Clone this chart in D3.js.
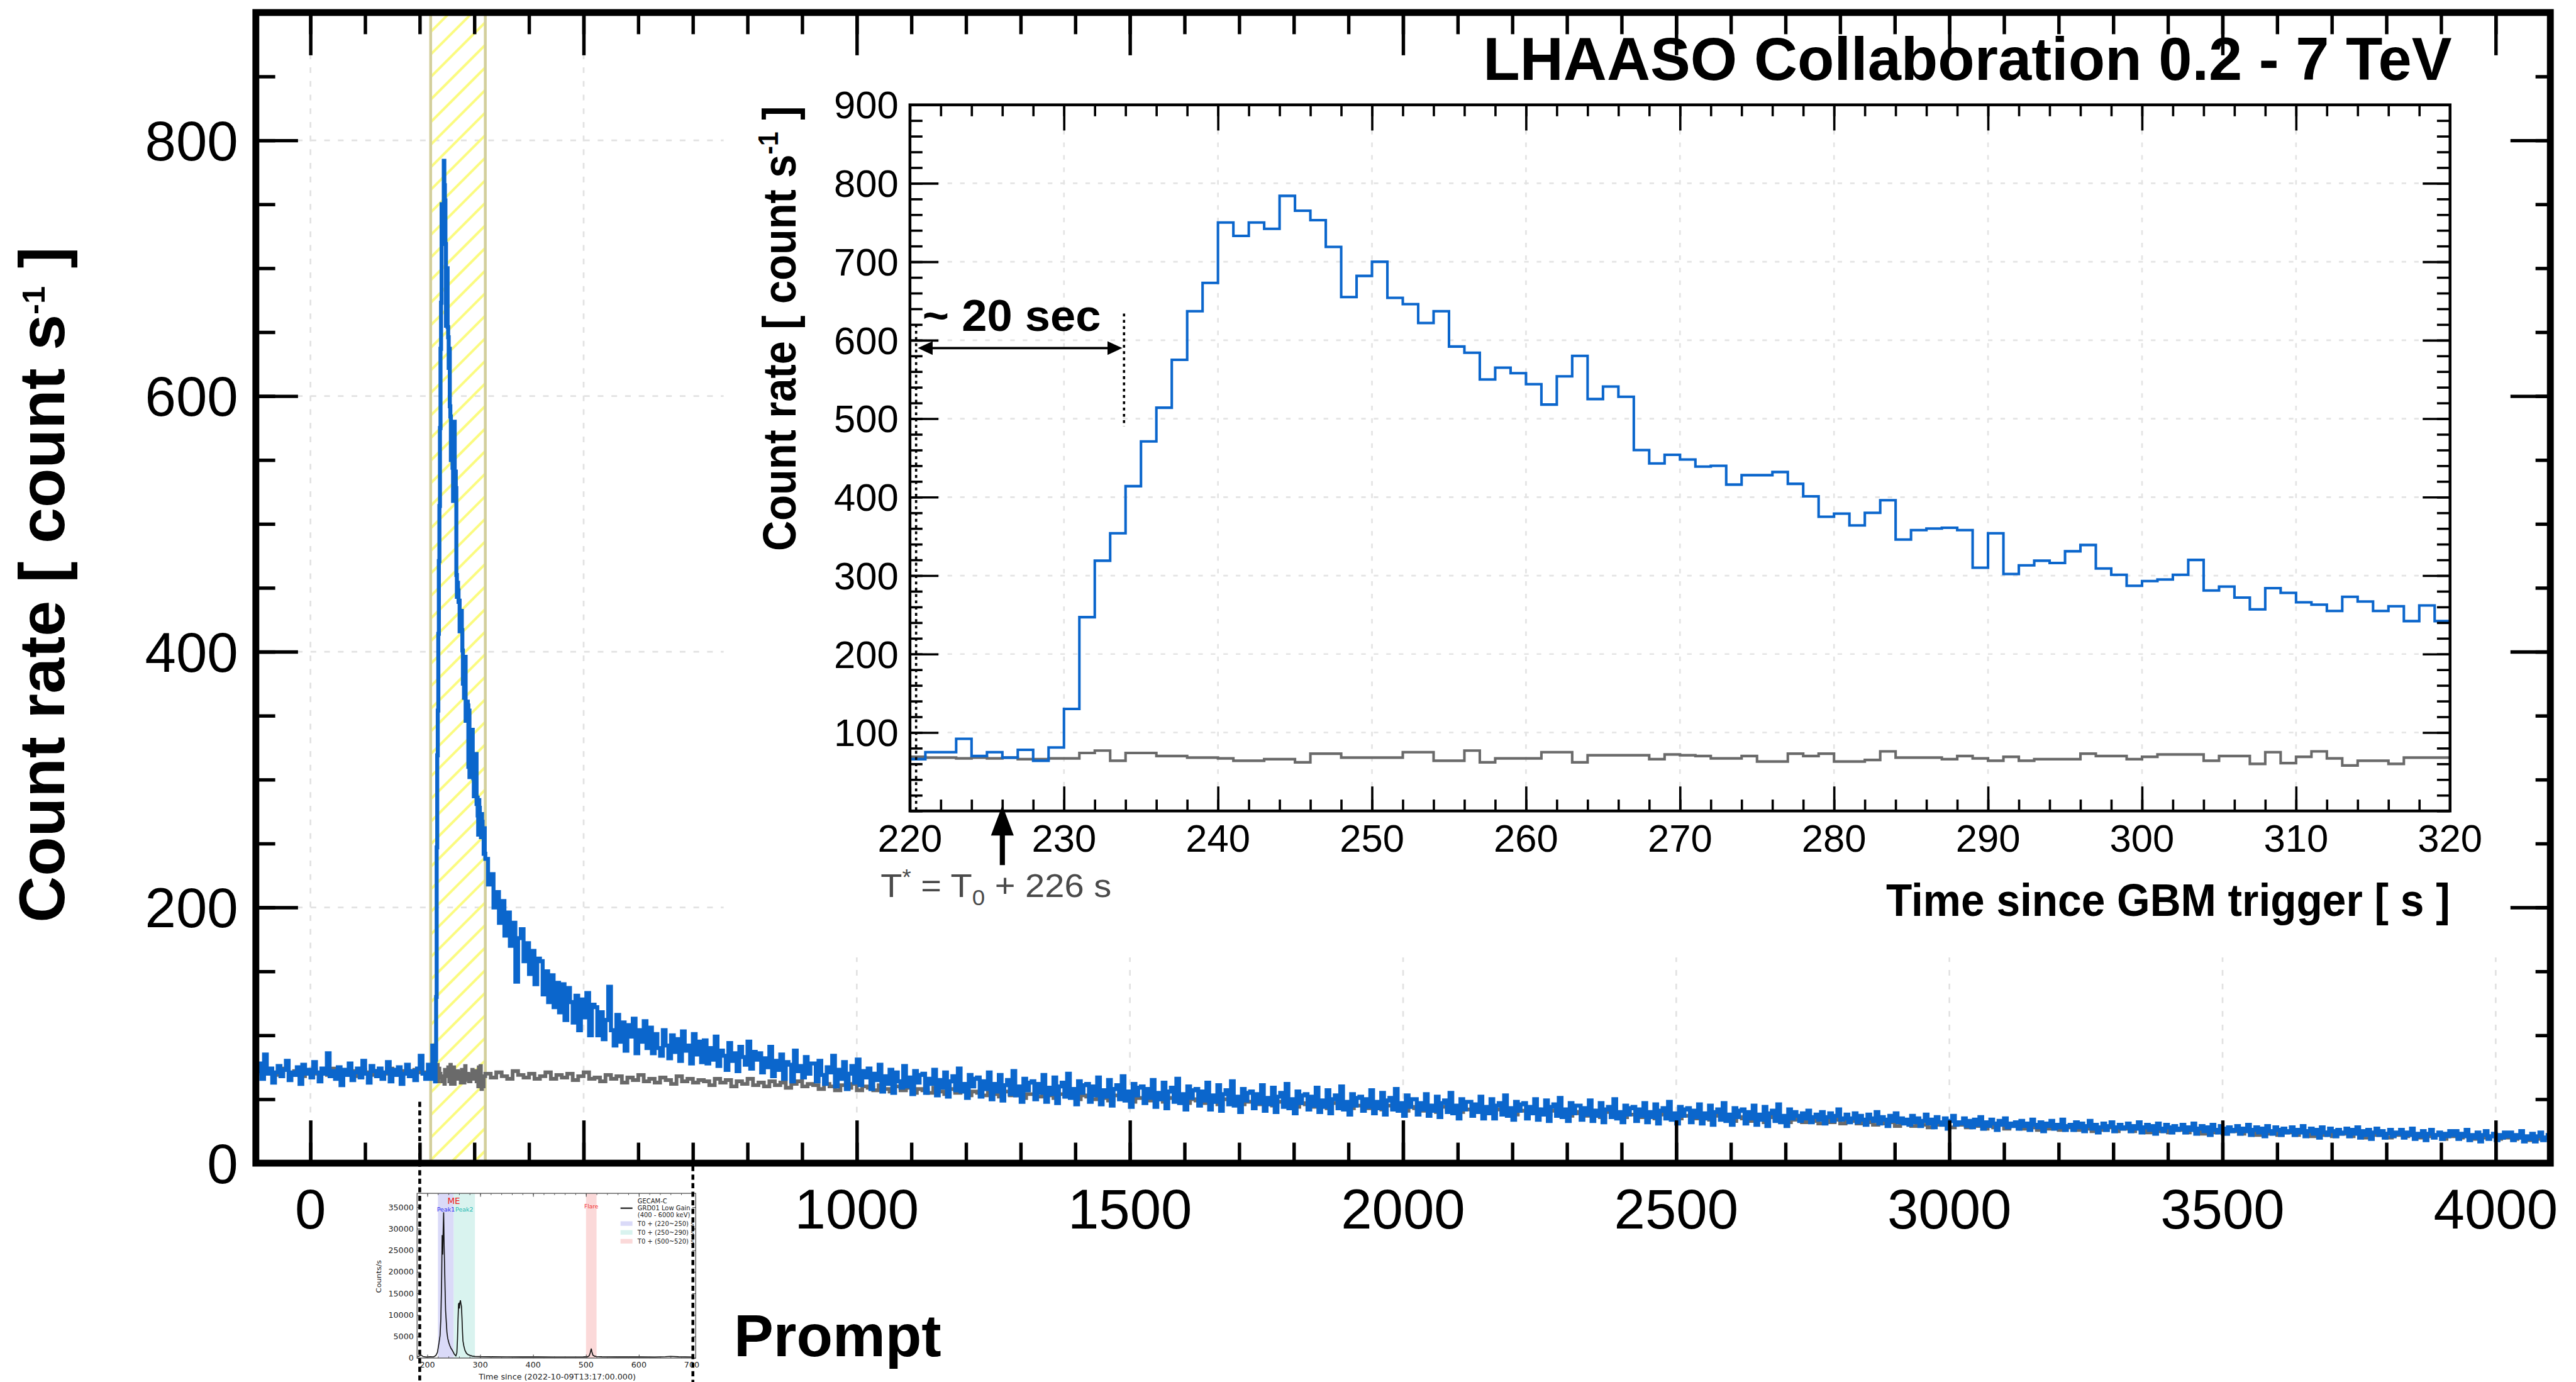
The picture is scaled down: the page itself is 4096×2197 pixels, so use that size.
<!DOCTYPE html>
<html><head><meta charset="utf-8">
<script src="https://cdn.jsdelivr.net/npm/d3@7"></script>
<style>html,body{margin:0;padding:0;background:#fff;overflow:hidden} text{white-space:pre}</style>
</head><body>
<script>
// ======================= DATA =======================
// Main light curve (LHAASO, count rate), 5 s bins from -100 s to 220 s
const blueMainPre = [72,78,66,85,70,74,63,71,76,68, 73,80,65,71,69,75,62,77,70,73, 67,79,71,64,74,70,86,68,72,66,
  75,61,73,69,78,65,71,74,67,80, 70,63,76,72,68,74,66,71,79,64, 73,69,75,62,70,77,68,72,65,74, 84,70,66,77];
// 1 s bins, 220 s to 320 s (shown in the inset, also used in the main panel)
const blueInset = [66,75,75,92,70,75,68,78,64,81, 130,247,319,354,414,471,514,575,637,673,
  750,733,750,742,784,765,753,719,655,682, 700,654,646,622,637,592,584,550,565,558,
  544,518,554,580,525,541,528,460,443,454, 448,439,440,416,428,428,432,417,401,375,
  379,364,380,396,346,358,360,361,358,310, 354,302,313,319,316,331,339,309,301,287,
  293,295,301,320,281,286,272,257,284,278, 266,263,255,273,267,255,261,242,262,242];
// 5 s bins, 320 s to 4100 s
const blueMainPost = [
  238,218,226,200,212,188,205,178,196,170,188,142,176,183,158,172,148,166,140,160,
  158,132,150,126,147,122,141,118,140,112,137,126,110,131,104,128,114,133,100,124,
  122,100,118,97,112,138,104,92,116,95,110,88,108,99,113,86,104,95,111,90,
  106,86,101,90,84,104,92,82,100,87,97,80,103,88,92,78,101,85,95,79,
  96,78,90,81,99,76,88,84,73,94,80,86,72,91,83,77,95,74,87,81,
  86,71,82,75,91,68,80,73,85,66,79,77,64,88,72,76,67,83,70,78,
  78,64,80,69,62,75,71,84,60,73,66,79,58,70,76,63,81,61,72,67,
  74,58,70,65,77,56,68,62,73,55,71,64,59,76,60,67,54,72,63,69,
  70,55,66,62,73,53,65,59,71,52,64,68,57,74,56,62,51,69,60,66,
  67,52,64,58,71,50,62,56,69,49,61,65,54,72,53,60,48,66,57,63,
  64,50,62,55,69,48,59,54,67,47,60,63,52,70,51,58,46,64,55,61,
  62,48,60,53,67,46,57,52,65,45,58,61,50,68,49,56,44,62,53,59,
  60,47,58,51,65,44,55,50,63,43,56,59,48,66,47,54,42,60,51,57,
  58,45,56,49,63,42,53,48,61,41,54,57,46,64,45,52,40,58,49,55,
  56,43,54,47,61,41,51,46,59,40,52,55,44,62,43,50,39,56,47,53,
  54,42,52,45,59,40,49,44,57,39,50,53,43,60,42,48,38,54,45,51,
  52,41,50,44,57,39,48,43,55,38,49,51,42,58,41,47,37,53,44,50,
  50,38,47,42,54,37,45,41,52,36,47,49,40,55,39,45,35,50,42,48,
  48,37,46,40,52,35,44,39,50,35,45,47,38,53,37,43,34,48,41,46,
  47,35,44,39,50,34,42,38,49,33,44,46,37,51,36,42,33,47,39,45,
  45,34,43,38,49,33,41,37,47,32,42,44,36,50,35,40,32,45,38,43,
  44,33,42,37,47,32,40,36,46,31,41,43,35,48,34,39,31,44,37,42,
  43,32,41,36,46,31,39,35,45,30,40,42,34,47,33,38,30,43,36,41,
  42,31,40,35,45,30,38,34,44,29,39,41,33,46,32,37,29,42,35,40,
  37,33,39,35,41,32,36,38,34,40,31,36,39,33,37,42,34,35,38,32,
  35,39,32,37,34,30,38,35,33,40,31,36,34,29,37,33,39,32,35,31,
  34,30,37,32,35,29,33,38,31,34,28,36,32,30,35,27,33,37,30,32,
  31,35,29,33,28,34,30,36,27,32,29,34,31,26,33,30,35,28,31,29,
  32,27,33,29,31,26,34,30,28,32,25,31,29,33,27,30,28,34,26,29,
  30,26,32,28,31,25,29,33,27,30,24,28,31,26,29,32,25,28,30,27,
  28,31,25,29,27,32,24,28,30,26,29,23,31,27,25,30,28,24,29,26,
  27,30,24,28,26,31,23,27,29,25,28,22,30,26,24,29,27,23,28,25,
  26,29,23,27,25,30,22,26,28,24,27,21,29,25,23,28,26,22,27,24,
  25,28,22,26,24,29,21,25,27,23,26,20,28,24,22,27,25,21,26,23,
  24,27,21,26,23,28,20,25,22,26,19,24,27,22,25,20,23,26,21,24,
  23,26,20,24,22,27,19,23,21,25,18,23,26,20,22,24,19,23,21,25,
  22,25,19,23,21,26,18,22,20,24,17,22,25,19,21,23,18,22,20,24,
  21,24,18,22,20,25,17,21,19,23,17,21,24,18,20,22];
// Background estimate (grey): 10 s bins -100..220, 1 s bins 220..320, 10 s bins 320..4100
const grayMainPre = [72,70,73,69,71,74,70,72,68,71, 73,70,72,69,74,71,70,72,68,73, 71,69,72,70,74,71,69,72,70,73, 71,70];
const grayInset = [69,68,68,67,68,67,68,66,66,67, 67,74,77,64,74,74,70,70,68,68,
  67,64,64,66,66,62,73,73,68,68, 68,68,75,75,64,64,77,62,67,67,
  67,75,75,62,71,71,71,71,66,72, 71,70,67,67,70,63,63,73,70,73,
  63,63,65,76,68,68,68,66,70,67, 64,69,64,66,66,66,73,70,70,66,
  69,72,72,72,64,70,70,60,75,61, 69,76,67,58,64,64,60,68,68,68];
const grayMainPost = [
  70,67,71,68,66,72,69,67,70,66, 68,71,66,69,67,70,65,68,71,66, 67,64,69,66,68,63,67,65,69,64,
  66,63,67,65,62,68,64,66,63,65, 64,61,66,63,65,60,64,62,66,61, 63,60,64,61,63,59,62,64,60,62,
  61,58,62,60,57,61,59,62,57,60, 59,57,61,58,56,60,57,59,55,58, 57,55,59,56,54,58,55,57,53,56,
  55,53,57,54,52,56,53,55,51,54, 54,52,55,53,51,54,52,54,50,53, 52,50,54,51,49,53,51,52,48,51,
  51,49,52,50,48,51,49,51,47,50, 49,47,51,48,46,50,48,49,46,48, 48,46,49,47,45,48,46,48,44,47,
  46,44,48,45,43,47,45,46,43,45, 45,43,46,44,42,45,43,45,41,44, 43,41,45,42,40,44,42,43,40,42,
  42,40,43,41,39,42,40,42,38,41, 41,39,42,40,38,41,39,40,37,40, 39,37,41,38,36,40,38,39,36,38,
  38,36,39,37,35,38,36,38,35,37, 37,35,38,36,34,37,35,36,33,36, 35,33,37,34,32,36,34,35,32,34,
  34,32,35,33,31,34,32,34,31,33, 33,31,34,32,30,33,31,32,29,32, 31,29,33,30,28,32,30,31,28,30,
  30,28,31,29,27,30,28,30,27,29, 29,27,30,28,26,29,27,29,26,28, 28,26,29,27,25,28,26,28,25,27,
  27,25,28,26,24,27,25,27,24,26, 26,24,27,25,23,26,24,26,23,25, 25,23,26,24,22,25,23,25,22,24,
  24,22,25,23,21,24,22,24,21,23, 23,21,24,22,20,23,22,23,20,22, 22,21,23,21,20,22,21,22,19,21,
  21,20,22,20,19,21,20,21,19,20, 20,19,21,20,18,20,19,20];

// Axis ticks / tick labels
const mainXTicks = [0,500,1000,1500,2000,2500,3000,3500,4000];
const mainXLabels = [0,1000,1500,2000,2500,3000,3500,4000];   // "500" is hidden behind the GECAM panel
const mainYLabels = [0,200,400,600,800];
const insetXLabels = [220,230,240,250,260,270,280,290,300,310,320];
const insetYLabels = [100,200,300,400,500,600,700,800,900];

// Highlighted window (yellow hatched band) and annotations
const bandRange = [220, 320];
const connectorTimes = [200, 700];
const twentySec = [220.4, 233.9];
const tStar = 226;

// GECAM-C GRD01 light curve (embedded panel)
const gecamT = [181,185,188,192,198,205,212,216,219,222, 224,225.5,227,228,229,230,230.8,231.6,232.5,233.5,
  234.5,235.6,237,238.5,240.5,242.4,244.5,246.2,248.5,251, 253.9,255.8,257,258,259,260,260.6,261.5,262.5,263.5,
  264.5,265.4,266.5,267.3,269,271.1,274,277,281,285, 290,300,320,350,380,410,440,470,495,503,
  506,508,510,511,513,516,520,530,560,600, 630,650,660,675,700];
const gecamC = [300,500,700,350,250,300,280,600,1300,3500, 5200,9000,18000,28500,24000,30000,33800,27000,22000,16000,
  11000,8800,6000,4600,3600,2900,2300,2000,1500,900, 500,1200,4400,9000,12500,12800,11500,12900,13400,12600,
  12000,9500,6000,4000,2800,1800,1100,800,600,450, 380,330,300,280,270,260,250,240,260,300,
  500,1200,2200,1500,700,450,350,300,270,260, 250,320,400,300,250];
const gecamXLabels = [200,300,400,500,600,700];
const gecamYLabels = [0,5000,10000,15000,20000,25000,30000,35000];
const gecamRegions = [
  {from:220, to:250, color:'#dadaf8', label:'T0 + (220~250) s'},
  {from:250, to:290, color:'#d9f3ef', label:'T0 + (250~290) s'},
  {from:500, to:520, color:'#fbd9d9', label:'T0 + (500~520) s'}];

// ======================= DRAWING =======================
const FONT = "'Liberation Sans', Arial, Helvetica, sans-serif";
const GFONT = "'DejaVu Sans', 'Liberation Sans', sans-serif";
const BLUE = '#0b66cc', GREY = '#6a6a6a';

const svg = d3.select('body').append('svg')
  .attr('width', 4096).attr('height', 2197).attr('viewBox', '0 0 4521 2425')
  .style('display', 'block');
const defs = svg.append('defs');
const pat = defs.append('pattern').attr('id', 'hatch').attr('patternUnits', 'userSpaceOnUse')
  .attr('width', 28).attr('height', 28).attr('patternTransform', 'rotate(45)');
pat.append('line').attr('x1', 14).attr('y1', -2).attr('x2', 14).attr('y2', 30)
  .attr('stroke', '#fbfb80').attr('stroke-width', 4.5);
svg.append('rect').attr('width', 4521).attr('height', 2425).attr('fill', '#fff');

// scales
const x = d3.scaleLinear().domain([-100, 4100]).range([449, 4476]);
const y = d3.scaleLinear().domain([0, 900]).range([2041, 22]);
const xi = d3.scaleLinear().domain([220, 320]).range([1597, 4300]);
const yi = d3.scaleLinear().domain([0, 900]).range([1423, 184]);
const xg = d3.scaleLinear().domain([180.6, 707.5]).range([732, 1221]);
const yg = d3.scaleLinear().domain([0, 38200]).range([2383, 2094]);

defs.append('clipPath').attr('id', 'mainclip').append('rect')
  .attr('x', x(-100)).attr('y', y(900)).attr('width', x(4100) - x(-100)).attr('height', y(0) - y(900));

function histPoints(segments, startZero) {
  const pts = [];
  if (startZero) pts.push([segments[0].start, 0]);
  segments.forEach(s => s.values.forEach((v, i) => pts.push([s.start + i * s.width, v])));
  const L = segments[segments.length - 1];
  pts.push([L.start + L.values.length * L.width, L.values[L.values.length - 1]]);
  return pts;
}
function ticks(g, axisFn, scale, values, size, transform, sw, color) {
  const gg = g.append('g').attr('transform', transform)
    .call(axisFn(scale).tickValues(values).tickSize(size).tickFormat(''));
  gg.select('.domain').remove();
  gg.selectAll('line').attr('stroke', color || '#000').attr('stroke-width', sw);
  return gg;
}
function fitText(parent, o) {
  const g = parent.append('g').attr('transform', `translate(${o.x},${o.y}) rotate(${o.rot || 0})`);
  const t = g.append('text').attr('text-anchor', o.anchor || 'start').attr('font-family', o.family || FONT)
    .attr('font-size', o.size).attr('font-weight', o.weight || 'normal').attr('fill', o.fill || '#000');
  o.parts.forEach(p => {
    const s = t.append('tspan').text(p.t);
    if (p.dy) s.attr('dy', p.dy);
    if (p.size) s.attr('font-size', p.size);
  });
  if (o.len) { const w = t.node().getBBox().width; t.attr('transform', `scale(${o.len / w},1)`); }
  return t;
}

// ---- main grid
const grid = svg.append('g').attr('stroke', '#e2e2e2').attr('stroke-width', 3).attr('stroke-dasharray', '10,14');
grid.selectAll('line.gx').data(mainXTicks).join('line').attr('class', 'gx')
  .attr('x1', d => x(d)).attr('x2', d => x(d)).attr('y1', y(900)).attr('y2', y(0));
grid.selectAll('line.gy').data(mainYLabels.filter(d => d > 0)).join('line').attr('class', 'gy')
  .attr('y1', d => y(d)).attr('y2', d => y(d)).attr('x1', x(-100)).attr('x2', x(4100));

// inset pad background (hides the main grid)
svg.append('rect').attr('x', 1270).attr('y', 22).attr('width', 4405 - 1270).attr('height', 1680 - 22).attr('fill', '#fff');

// ---- hatched band
const band = svg.append('g');
band.append('rect').attr('x', x(bandRange[0])).attr('y', y(900)).attr('width', x(bandRange[1]) - x(bandRange[0]))
  .attr('height', y(0) - y(900)).attr('fill', 'url(#hatch)');
band.selectAll('line').data(bandRange).join('line')
  .attr('x1', d => x(d)).attr('x2', d => x(d)).attr('y1', y(900)).attr('y2', y(0))
  .attr('stroke', '#d3cf9c').attr('stroke-width', 5);

// ---- main data
const lineMain = d3.line().x(d => x(d[0])).y(d => y(d[1])).curve(d3.curveStepAfter);
const grayPts = histPoints([{start: -100, width: 10, values: grayMainPre}, {start: 220, width: 1, values: grayInset},
  {start: 320, width: 10, values: grayMainPost}], true);
const bluePts = histPoints([{start: -100, width: 5, values: blueMainPre}, {start: 220, width: 1, values: blueInset},
  {start: 320, width: 5, values: blueMainPost}], true);
const dataG = svg.append('g').attr('clip-path', 'url(#mainclip)');
dataG.append('path').attr('d', lineMain(grayPts)).attr('fill', 'none').attr('stroke', GREY).attr('stroke-width', 6.5);
dataG.append('path').attr('d', lineMain(bluePts)).attr('fill', 'none').attr('stroke', BLUE).attr('stroke-width', 7);

// ---- main frame & ticks
const ax = svg.append('g');
const xMinor = d3.range(-100, 4101, 100), yMinor = d3.range(0, 901, 50);
ticks(ax, d3.axisBottom, x, xMinor, -36, `translate(0,${y(0)})`, 6);
ticks(ax, d3.axisBottom, x, mainXTicks, -75, `translate(0,${y(0)})`, 6);
ticks(ax, d3.axisTop, x, xMinor, -38, `translate(0,${y(900)})`, 6);
ticks(ax, d3.axisTop, x, mainXTicks, -75, `translate(0,${y(900)})`, 6);
ticks(ax, d3.axisLeft, y, yMinor, -34, `translate(${x(-100)},0)`, 6);
ticks(ax, d3.axisLeft, y, mainYLabels, -74, `translate(${x(-100)},0)`, 6);
ticks(ax, d3.axisRight, y, yMinor, -26, `translate(${x(4100)},0)`, 6);
ticks(ax, d3.axisRight, y, mainYLabels, -70, `translate(${x(4100)},0)`, 6);
ax.append('rect').attr('x', x(-100)).attr('y', y(900)).attr('width', x(4100) - x(-100)).attr('height', y(0) - y(900))
  .attr('fill', 'none').attr('stroke', '#000').attr('stroke-width', 12);

const lab = svg.append('g').attr('font-family', FONT).attr('font-size', 98).attr('fill', '#000');
lab.selectAll('text.mx').data(mainXLabels).join('text').attr('class', 'mx')
  .attr('x', d => x(d)).attr('y', 2156).attr('text-anchor', 'middle').text(d => d);
lab.selectAll('text.my').data(mainYLabels).join('text').attr('class', 'my')
  .attr('x', 418).attr('y', d => y(d) + 35).attr('text-anchor', 'end').text(d => d);

// main y-axis title (no horizontal squeeze, font sized to the reference length)
fitText(svg, {x: 112, y: 433, rot: -90, anchor: 'end', size: 113, weight: 'bold',
  parts: [{t: 'Count rate [ count s'}, {t: '-1', dy: -34, size: 56}, {t: ' ]', dy: 34, size: 113}]});

// ---- GECAM panel
const gp = svg.append('g');
gp.append('rect').attr('x', 600).attr('y', 2052).attr('width', 640).attr('height', 373).attr('fill', '#fff');
gp.selectAll('rect.reg').data(gecamRegions).join('rect').attr('class', 'reg')
  .attr('x', d => xg(d.from)).attr('width', d => xg(d.to) - xg(d.from))
  .attr('y', yg(38200)).attr('height', yg(0) - yg(38200)).attr('fill', d => d.color);
const gline = d3.line().x((d, i) => xg(gecamT[i])).y(d => yg(d));
gp.append('path').attr('d', gline(gecamC)).attr('fill', 'none').attr('stroke', '#111').attr('stroke-width', 1.8);
const gxMinor = d3.range(200, 701, 20);
ticks(gp, d3.axisBottom, xg, gxMinor, -3, `translate(0,${yg(0)})`, 1, '#444');
ticks(gp, d3.axisBottom, xg, gecamXLabels, -6, `translate(0,${yg(0)})`, 1.2, '#444');
ticks(gp, d3.axisTop, xg, gxMinor, -3, `translate(0,${yg(38200)})`, 1, '#444');
ticks(gp, d3.axisTop, xg, gecamXLabels, -6, `translate(0,${yg(38200)})`, 1.2, '#444');
ticks(gp, d3.axisLeft, yg, gecamYLabels, -6, `translate(${xg(180.6)},0)`, 1.2, '#444');
ticks(gp, d3.axisRight, yg, gecamYLabels, -6, `translate(${xg(707.5)},0)`, 1.2, '#444');
gp.append('rect').attr('x', xg(180.6)).attr('y', yg(38200)).attr('width', xg(707.5) - xg(180.6))
  .attr('height', yg(0) - yg(38200)).attr('fill', 'none').attr('stroke', '#555').attr('stroke-width', 1.5);
const gl = gp.append('g').attr('font-family', GFONT).attr('fill', '#222');
gl.selectAll('text.gx').data(gecamXLabels).join('text').attr('class', 'gx')
  .attr('x', d => xg(d)).attr('y', 2400).attr('text-anchor', 'middle').attr('font-size', 14).text(d => d);
gl.selectAll('text.gy').data(gecamYLabels).join('text').attr('class', 'gy')
  .attr('x', 726).attr('y', d => yg(d) + 5).attr('text-anchor', 'end').attr('font-size', 14).text(d => d);
fitText(gl, {x: 978, y: 2421, anchor: 'middle', size: 13, family: GFONT, fill: '#222', len: 277,
  parts: [{t: 'Time since (2022-10-09T13:17:00.000)'}]});
fitText(gl, {x: 669, y: 2240, rot: -90, anchor: 'middle', size: 12, family: GFONT, fill: '#222', len: 58,
  parts: [{t: 'Counts/s'}]});
gl.append('text').attr('x', xg(250)).attr('y', 2113).attr('text-anchor', 'middle').attr('font-size', 15)
  .attr('fill', '#f02020').text('ME');
gl.append('text').attr('x', xg(235)).attr('y', 2126).attr('text-anchor', 'middle').attr('font-size', 10.5)
  .attr('fill', '#2a2af0').text('Peak1');
gl.append('text').attr('x', xg(270)).attr('y', 2126).attr('text-anchor', 'middle').attr('font-size', 10.5)
  .attr('fill', '#20b8b0').text('Peak2');
gl.append('text').attr('x', xg(510)).attr('y', 2120).attr('text-anchor', 'middle').attr('font-size', 10)
  .attr('fill', '#f03030').text('Flare');
// legend
gl.append('line').attr('x1', 1089).attr('x2', 1110).attr('y1', 2120).attr('y2', 2120).attr('stroke', '#222').attr('stroke-width', 2.5);
[['GECAM-C', 2112], ['GRD01 Low Gain', 2124], ['(400 - 6000 keV)', 2136]].forEach(([t, yy]) =>
  gl.append('text').attr('x', 1119).attr('y', yy).attr('font-size', 11).text(t));
gl.selectAll('rect.lg').data(gecamRegions).join('rect').attr('class', 'lg')
  .attr('x', 1089).attr('width', 21).attr('y', (d, i) => 2143 + i * 15.5).attr('height', 8).attr('fill', d => d.color);
gl.selectAll('text.lgt').data(gecamRegions).join('text').attr('class', 'lgt')
  .attr('x', 1119).attr('y', (d, i) => 2151 + i * 15.5).attr('font-size', 11).text(d => d.label);

// connectors
const con = svg.append('g').attr('stroke', '#000').attr('stroke-width', 5).attr('stroke-dasharray', '9,6');
con.append('line').attr('x1', x(connectorTimes[0])).attr('x2', x(connectorTimes[0])).attr('y1', y(48)).attr('y2', 2425);
con.append('line').attr('x1', x(connectorTimes[1])).attr('x2', x(connectorTimes[1])).attr('y1', y(0) + 5).attr('y2', 2425);

svg.append('text').attr('x', 1288).attr('y', 2380).attr('font-family', FONT).attr('font-size', 104)
  .attr('font-weight', 'bold').text('Prompt');
fitText(svg, {x: 4303, y: 140, anchor: 'end', size: 107, weight: 'bold', len: 1700,
  parts: [{t: 'LHAASO Collaboration 0.2 - 7 TeV'}]});

// ======================= INSET =======================
const ig = svg.append('g');
const igrid = ig.append('g').attr('stroke', '#e4e4e4').attr('stroke-width', 3).attr('stroke-dasharray', '8,14');
igrid.selectAll('line.a').data(insetXLabels.slice(1, -1)).join('line').attr('class', 'a')
  .attr('x1', d => xi(d)).attr('x2', d => xi(d)).attr('y1', yi(900)).attr('y2', yi(0));
igrid.selectAll('line.b').data(insetYLabels.slice(0, -1)).join('line').attr('class', 'b')
  .attr('y1', d => yi(d)).attr('y2', d => yi(d)).attr('x1', xi(220)).attr('x2', xi(320));

const lineIn = d3.line().x(d => xi(d[0])).y(d => yi(d[1])).curve(d3.curveStepAfter);
ig.append('path').attr('d', lineIn(histPoints([{start: 220, width: 1, values: grayInset}], false)))
  .attr('fill', 'none').attr('stroke', GREY).attr('stroke-width', 4.5);
ig.append('path').attr('d', lineIn(histPoints([{start: 220, width: 1, values: blueInset}], false)))
  .attr('fill', 'none').attr('stroke', BLUE).attr('stroke-width', 4.5);

const ixMinor = d3.range(220, 321, 2), iyMinor = d3.range(0, 901, 20);
ticks(ig, d3.axisBottom, xi, ixMinor, -20, `translate(0,${yi(0)})`, 4);
ticks(ig, d3.axisBottom, xi, insetXLabels, -43, `translate(0,${yi(0)})`, 4);
ticks(ig, d3.axisTop, xi, ixMinor, -20, `translate(0,${yi(900)})`, 4);
ticks(ig, d3.axisTop, xi, insetXLabels, -45, `translate(0,${yi(900)})`, 4);
ticks(ig, d3.axisLeft, yi, iyMinor, -22, `translate(${xi(220)},0)`, 4);
ticks(ig, d3.axisLeft, yi, insetYLabels, -50, `translate(${xi(220)},0)`, 4);
ticks(ig, d3.axisRight, yi, iyMinor, -23, `translate(${xi(320)},0)`, 4);
ticks(ig, d3.axisRight, yi, insetYLabels, -48, `translate(${xi(320)},0)`, 4);
ig.append('rect').attr('x', xi(220)).attr('y', yi(900)).attr('width', xi(320) - xi(220)).attr('height', yi(0) - yi(900))
  .attr('fill', 'none').attr('stroke', '#000').attr('stroke-width', 5);

const il = ig.append('g').attr('font-family', FONT).attr('font-size', 68).attr('fill', '#000');
il.selectAll('text.ix').data(insetXLabels).join('text').attr('class', 'ix')
  .attr('x', d => xi(d)).attr('y', 1494).attr('text-anchor', 'middle').text(d => d);
il.selectAll('text.iy').data(insetYLabels).join('text').attr('class', 'iy')
  .attr('x', 1577).attr('y', d => yi(d) + 24).attr('text-anchor', 'end').text(d => d);

fitText(ig, {x: 4300, y: 1607, anchor: 'end', size: 80, weight: 'bold', len: 990,
  parts: [{t: 'Time since GBM trigger [ s ]'}]});
fitText(ig, {x: 1396, y: 186, rot: -90, anchor: 'end', size: 82, weight: 'bold', len: 781,
  parts: [{t: 'Count rate [ count s'}, {t: '-1', dy: -31, size: 50}, {t: ' ]', dy: 31, size: 82}]});

// ~20 sec annotation
const ann = ig.append('g');
ann.append('line').attr('x1', xi(twentySec[0])).attr('x2', xi(twentySec[0])).attr('y1', yi(620)).attr('y2', yi(0))
  .attr('stroke', '#000').attr('stroke-width', 4).attr('stroke-dasharray', '5,6');
ann.append('line').attr('x1', xi(twentySec[1])).attr('x2', xi(twentySec[1])).attr('y1', yi(634)).attr('y2', yi(490))
  .attr('stroke', '#000').attr('stroke-width', 4).attr('stroke-dasharray', '5,6');
const ay = yi(590), ax0 = xi(twentySec[0]) + 3, ax1 = xi(twentySec[1]) - 3, hl = 26, hw = 12;
ann.append('line').attr('x1', ax0 + hl - 2).attr('x2', ax1 - hl + 2).attr('y1', ay).attr('y2', ay)
  .attr('stroke', '#000').attr('stroke-width', 4);
ann.append('path').attr('d', `M${ax0},${ay}L${ax0 + hl},${ay - hw}L${ax0 + hl},${ay + hw}Z M${ax1},${ay}L${ax1 - hl},${ay - hw}L${ax1 - hl},${ay + hw}Z`)
  .attr('fill', '#000');
fitText(ann, {x: 1619, y: 581, anchor: 'start', size: 78, weight: 'bold', len: 313, parts: [{t: '~ 20 sec'}]});

// T* arrow
const tx = xi(tStar);
ann.append('path').attr('d', `M${tx},1413L${tx + 20},1466L${tx + 4.5},1466L${tx + 4.5},1518L${tx - 4.5},1518L${tx - 4.5},1466L${tx - 20},1466Z`)
  .attr('fill', '#000');
fitText(ann, {x: 1748, y: 1574, anchor: 'middle', size: 58, fill: '#4a4a4a', len: 405,
  parts: [{t: 'T'}, {t: '*', dy: -22, size: 38}, {t: ' = T', dy: 22, size: 58}, {t: '0', dy: 14, size: 38},
          {t: ' + 226 s', dy: -14, size: 58}]});
</script>
</body></html>
